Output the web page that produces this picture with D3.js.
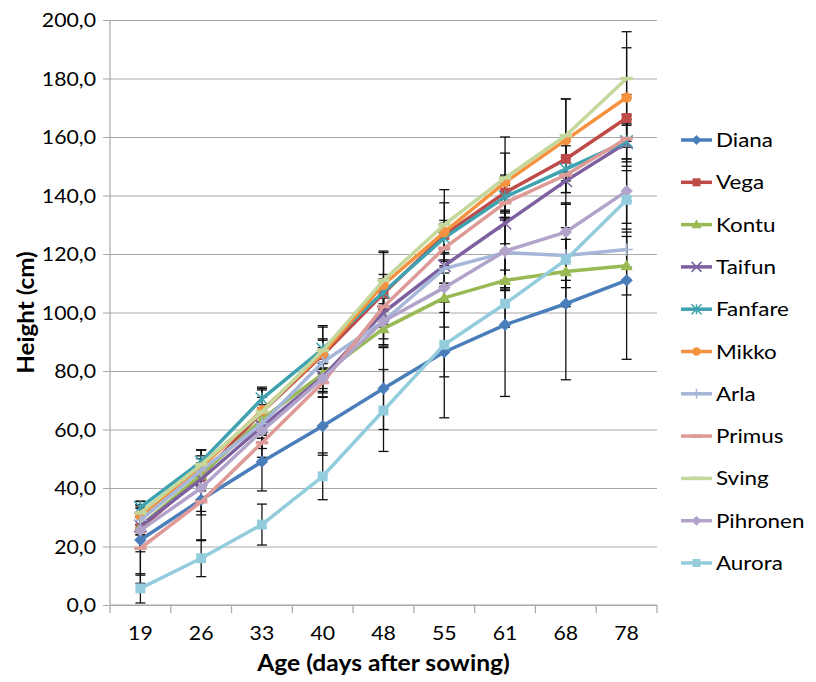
<!DOCTYPE html>
<html>
<head>
<meta charset="utf-8">
<script src="https://cdn.jsdelivr.net/npm/d3@7"></script>
<style>
  body { margin: 0; background: #fff; }
  text { font-family: Lato, "Open Sans", sans-serif; fill: #000; }
</style>
</head>
<body>
<div id="chart"></div>
<script>
// categories (age, days after sowing)
const days = ['19', '26', '33', '40', '48', '55', '61', '68', '78'];
const yTicks = [0, 20, 40, 60, 80, 100, 120, 140, 160, 180, 200];

// mean heights (cm) per variety
const diana    = [22.2, 36.0, 49.0, 61.2, 74.0, 86.5, 95.8, 103.0, 111.0];
const vega     = [26.2, 44.0, 66.0, 85.5, 106.5, 126.5, 141.0, 152.5, 166.5];
const kontu    = [27.0, 44.5, 63.5, 79.0, 94.5, 105.0, 111.0, 114.0, 116.0];
const taifun   = [27.0, 43.0, 61.0, 78.0, 100.0, 116.0, 130.5, 145.0, 158.0];
const fanfare  = [33.4, 49.0, 70.5, 87.5, 107.0, 125.5, 139.5, 149.0, 158.5];
const mikko    = [30.5, 47.0, 66.5, 86.0, 109.5, 127.5, 144.5, 159.0, 173.5];
const arla     = [29.0, 46.0, 62.0, 83.0, 97.0, 115.0, 120.5, 119.5, 121.5];
const primus   = [19.4, 35.3, 55.5, 76.0, 102.0, 122.0, 137.5, 147.0, 159.5];
const sving    = [31.5, 48.0, 66.0, 87.0, 111.0, 130.0, 146.0, 160.5, 180.0];
const pihronen = [25.5, 40.0, 59.5, 77.5, 97.0, 108.5, 121.0, 127.5, 141.5];
const aurora   = [5.7, 16.0, 27.5, 44.0, 66.5, 89.0, 103.0, 118.0, 138.5];

// error bar half-widths (cm)
const dianaErr    = [12, 14, 10, 10, 14, 22.5, 24.5, 26, 27];
const vegaErr     = [8, 4, 5, 5, 5, 5, 6, 6, 8];
const kontuErr    = [3, 4, 5, 5, 6, 10, 3.5, 5.5, 10];
const taifunErr   = [3, 4, 4, 5, 5, 6, 7, 8, 8];
const fanfareErr  = [2, 4, 4, 8, 6, 5, 7, 8, 6];
const mikkoErr    = [3, 6, 7, 5, 11, 10, 10, 14, 17];
const arlaErr     = [4, 5, 5, 5, 8, 5, 12, 17.5, 6];
const primusErr   = [12, 4.5, 5, 5, 6, 6, 6, 6, 8];
const svingErr    = [4, 5, 8, 8, 10, 12, 14, 12.5, 16];
const pihronenErr = [6, 8, 6, 5, 6, 5, 13, 10, 11];
const auroraErr   = [5, 6.3, 7, 8, 14, 11, 8, 7, 10];

const series = [
  {name: 'Diana',    values: diana,    err: dianaErr,    color: '#4A7EBB', marker: 'diamond'},
  {name: 'Vega',     values: vega,     err: vegaErr,     color: '#BE4B48', marker: 'square'},
  {name: 'Kontu',    values: kontu,    err: kontuErr,    color: '#98B954', marker: 'triangle'},
  {name: 'Taifun',   values: taifun,   err: taifunErr,   color: '#7D60A0', marker: 'x'},
  {name: 'Fanfare',  values: fanfare,  err: fanfareErr,  color: '#3FA2B0', marker: 'star'},
  {name: 'Mikko',    values: mikko,    err: mikkoErr,    color: '#F59240', marker: 'circle'},
  {name: 'Arla',     values: arla,     err: arlaErr,     color: '#A5B6D8', marker: 'plus'},
  {name: 'Primus',   values: primus,   err: primusErr,   color: '#DD9A97', marker: 'dash'},
  {name: 'Sving',    values: sving,    err: svingErr,    color: '#C4D89C', marker: 'dash'},
  {name: 'Pihronen', values: pihronen, err: pihronenErr, color: '#B1A3CA', marker: 'diamond'},
  {name: 'Aurora',   values: aurora,   err: auroraErr,   color: '#93CDDD', marker: 'square'}
];

const width = 816, height = 682;
const margin = {top: 20, right: 159, bottom: 77, left: 110};
const stretch = 1.12; // the source chart is a bit wider than tall, text included
const gridColor = '#a8a8a8';

const svg = d3.select('#chart').append('svg')
    .attr('width', width)
    .attr('height', height);

const x = d3.scaleBand()
    .domain(days)
    .range([margin.left, width - margin.right]);

const y = d3.scaleLinear()
    .domain([0, 200])
    .range([height - margin.bottom, margin.top]);

const cx = d => x(d) + x.bandwidth() / 2;

// text helper: place and widen a label
function label(parent, tx, ty, str, size, anchor, bold) {
  return parent.append('text')
      .attr('transform', `translate(${tx},${ty}) scale(${stretch},1)`)
      .attr('text-anchor', anchor)
      .attr('font-size', size)
      .attr('font-weight', bold ? 'bold' : 'normal')
      .text(str);
}

// horizontal gridlines with small outside ticks
svg.append('g')
    .attr('transform', `translate(${margin.left},0)`)
    .call(d3.axisLeft(y).tickValues(yTicks)
        .tickSize(-(width - margin.left - margin.right))
        .tickFormat(''))
    .call(g => g.select('.domain').remove())
    .call(g => g.selectAll('.tick line')
        .attr('x1', -7)
        .attr('stroke', gridColor)
        .attr('stroke-width', 1.2));

// y labels
yTicks.forEach(t => {
  label(svg, 96, y(t) + 7, t.toFixed(1).replace('.', ','), 19, 'end');
});

// y axis line
svg.append('line')
    .attr('x1', margin.left).attr('x2', margin.left)
    .attr('y1', margin.top).attr('y2', y(0))
    .attr('stroke', gridColor)
    .attr('stroke-width', 1.2);

// x axis with ticks between categories
const xAxis = svg.append('g')
    .attr('transform', `translate(0,${y(0)})`);
xAxis.append('line')
    .attr('x1', margin.left).attr('x2', width - margin.right)
    .attr('stroke', gridColor)
    .attr('stroke-width', 1.2);
xAxis.selectAll('.xtick')
    .data(days.concat(['end']))
  .join('line')
    .attr('class', 'xtick')
    .attr('x1', (d, i) => i < days.length ? x(d) : width - margin.right)
    .attr('x2', (d, i) => i < days.length ? x(d) : width - margin.right)
    .attr('y2', 8)
    .attr('stroke', gridColor)
    .attr('stroke-width', 1.2);
days.forEach(d => label(xAxis, cx(d), 35, d, 19, 'middle'));

// axis titles
label(svg, (margin.left + width - margin.right) / 2, 671, 'Age (days after sowing)', 22, 'middle', true);

svg.append('text')
    .attr('transform', `translate(34,${(margin.top + y(0)) / 2}) rotate(-90) scale(1.1,1)`)
    .attr('text-anchor', 'middle')
    .attr('font-size', 22)
    .attr('font-weight', 'bold')
    .text('Height (cm)');

// markers
function drawMarker(g, type, color, s) {
  if (type === 'diamond') {
    g.append('path').attr('d', `M0,${-s}L${s},0L0,${s}L${-s},0Z`).attr('fill', color);
  } else if (type === 'square') {
    g.append('rect').attr('x', -s * 0.8).attr('y', -s * 0.8)
        .attr('width', s * 1.6).attr('height', s * 1.6).attr('fill', color);
  } else if (type === 'triangle') {
    g.append('path').attr('d', `M0,${-s}L${s},${s * 0.75}L${-s},${s * 0.75}Z`).attr('fill', color);
  } else if (type === 'circle') {
    g.append('circle').attr('r', s * 0.85).attr('fill', color);
  } else if (type === 'x') {
    g.append('path').attr('d', `M${-s},${-s}L${s},${s}M${-s},${s}L${s},${-s}`)
        .attr('stroke', color).attr('stroke-width', 1.5);
  } else if (type === 'star') {
    g.append('path').attr('d', `M${-s},${-s}L${s},${s}M${-s},${s}L${s},${-s}M0,${-s}L0,${s}`)
        .attr('stroke', color).attr('stroke-width', 1.5);
  } else if (type === 'plus') {
    g.append('path').attr('d', `M0,${-s}L0,${s}M${-s},0L${s},0`)
        .attr('stroke', color).attr('stroke-width', 1.5);
  } else if (type === 'dash') {
    g.append('path').attr('d', `M${-s},0L${s},0`)
        .attr('stroke', color).attr('stroke-width', 3.5);
  }
}

// error bars (under the lines)
const errG = svg.append('g').attr('class', 'errorbars');
series.forEach(s => {
  s.values.forEach((v, i) => {
    if (!s.err[i]) return;
    const px = cx(days[i]);
    const lo = y(v - s.err[i]), hi = y(v + s.err[i]);
    errG.append('line').attr('x1', px).attr('x2', px).attr('y1', lo).attr('y2', hi);
    errG.append('line').attr('x1', px - 5).attr('x2', px + 5).attr('y1', lo).attr('y2', lo);
    errG.append('line').attr('x1', px - 5).attr('x2', px + 5).attr('y1', hi).attr('y2', hi);
  });
});
errG.selectAll('line').attr('stroke', '#111').attr('stroke-width', 1.3);

// lines + markers
const line = d3.line()
    .x((d, i) => cx(days[i]))
    .y(d => y(d));

series.forEach(s => {
  svg.append('path')
      .datum(s.values)
      .attr('fill', 'none')
      .attr('stroke', s.color)
      .attr('stroke-width', 3.5)
      .attr('stroke-linejoin', 'round')
      .attr('d', line);
  s.values.forEach((v, i) => {
    const g = svg.append('g').attr('transform', `translate(${cx(days[i])},${y(v)})`);
    drawMarker(g, s.marker, s.color, 6.2);
  });
});

// legend
const legend = svg.append('g').attr('class', 'legend');
series.forEach((s, i) => {
  const ly = 140 + i * 42.3;
  legend.append('line')
      .attr('x1', 681).attr('x2', 712)
      .attr('y1', ly).attr('y2', ly)
      .attr('stroke', s.color)
      .attr('stroke-width', 3.5);
  drawMarker(legend.append('g').attr('transform', `translate(696.5,${ly})`), s.marker, s.color, 5);
  label(legend, 716, ly + 7, s.name, 20, 'start');
});
</script>
</body>
</html>
